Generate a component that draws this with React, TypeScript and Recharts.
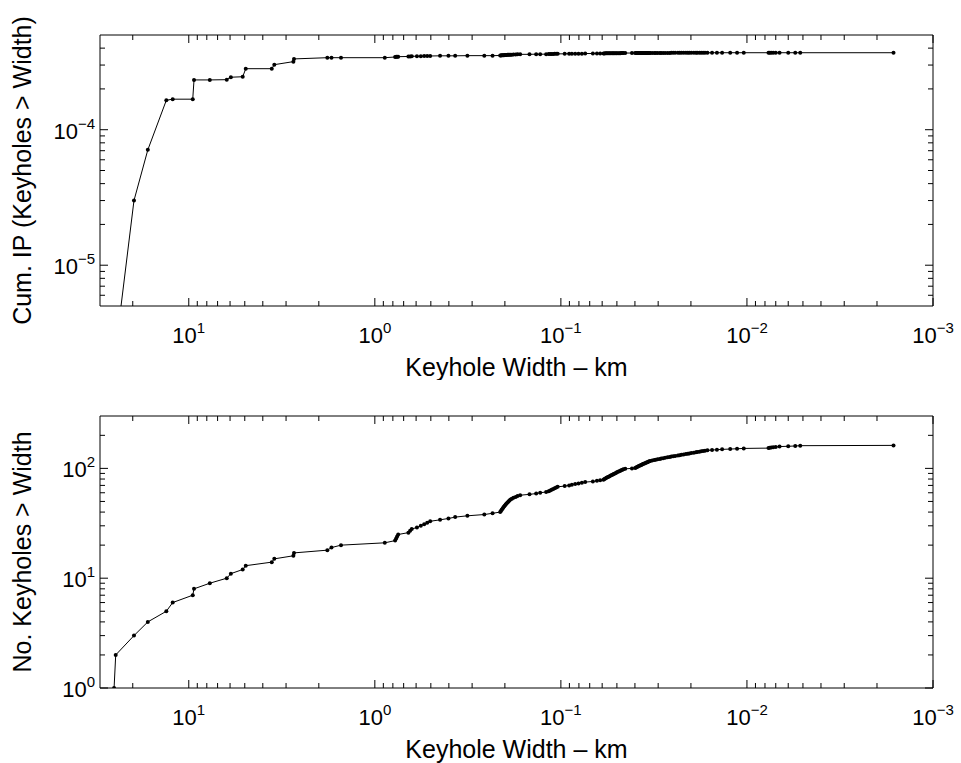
import { LineChart, Line, XAxis, YAxis, Label } from "recharts";

// keyhole widths (km), sorted largest first, shared by both panels
const widthsKm = [
  25.2, 24.7, 19.7, 16.6, 13.2, 12.2, 9.52, 9.37, 7.71, 6.25,
  5.94, 5.13, 4.94, 3.58, 3.47, 2.74, 2.72, 1.8, 1.71, 1.52,
  0.884, 0.778, 0.768, 0.759, 0.749, 0.66, 0.646, 0.633, 0.594, 0.566,
  0.543, 0.523, 0.504, 0.446, 0.402, 0.37, 0.318, 0.258, 0.233, 0.212,
  0.21, 0.208, 0.206, 0.204, 0.202, 0.2, 0.198, 0.196, 0.1935, 0.1913,
  0.189, 0.1864, 0.1834, 0.1798, 0.175, 0.171, 0.1655, 0.1475, 0.1358, 0.1292,
  0.12, 0.1163, 0.1142, 0.1121, 0.11, 0.108, 0.106, 0.104, 0.0954, 0.0903,
  0.0873, 0.0838, 0.0804, 0.0771, 0.074, 0.0673, 0.064, 0.0615, 0.059, 0.0584,
  0.0576, 0.0569, 0.0562, 0.0554, 0.0547, 0.054, 0.0532, 0.0526, 0.052, 0.0513,
  0.0506, 0.05, 0.0493, 0.0486, 0.0479, 0.0474, 0.0467, 0.0461, 0.0451, 0.0415,
  0.0399, 0.0394, 0.039, 0.0385, 0.0381, 0.0376, 0.0372, 0.0368, 0.0364, 0.036,
  0.0355, 0.0351, 0.0347, 0.0343, 0.0339, 0.0335, 0.0331, 0.0323, 0.0315, 0.0309,
  0.0302, 0.0294, 0.0289, 0.0282, 0.0275, 0.0267, 0.026, 0.0255, 0.0249, 0.0243,
  0.0235, 0.023, 0.0225, 0.0219, 0.0213, 0.0208, 0.0204, 0.0199, 0.0193, 0.0188,
  0.0185, 0.018, 0.0176, 0.0172, 0.0168, 0.0163, 0.0154, 0.0145, 0.0136, 0.0123,
  0.0113, 0.0104, 0.00766, 0.00754, 0.0074, 0.00722, 0.007, 0.00668, 0.006, 0.0055,
  0.00517, 0.00163,
];

// No. keyholes wider than each width
const keyholeCounts = [
  1, 2, 3, 4, 5, 6, 7, 8, 9, 10, 11, 12, 13, 14, 15, 16, 17, 18, 19, 20,
  21, 22, 23, 24, 25, 26, 27, 28, 29, 30, 31, 32, 33, 34, 35, 36, 37, 38, 39, 40,
  41, 42, 43, 44, 45, 46, 47, 48, 49, 50, 51, 52, 53, 54, 55, 56, 57, 58, 59, 60,
  61, 62, 63, 64, 65, 66, 67, 68, 69, 70, 71, 72, 73, 74, 75, 76, 77, 78, 79, 80,
  81, 82, 83, 84, 85, 86, 87, 88, 89, 90, 91, 92, 93, 94, 95, 96, 97, 98, 99, 100,
  101, 102, 103, 104, 105, 106, 107, 108, 109, 110, 111, 112, 113, 114, 115, 116, 117, 118, 119, 120,
  121, 122, 123, 124, 125, 126, 127, 128, 129, 130, 131, 132, 133, 134, 135, 136, 137, 138, 139, 140,
  141, 142, 143, 144, 145, 146, 147, 148, 149, 150, 151, 152, 153, 154, 155, 156, 157, 158, 159, 160,
  161, 162,
];

// cumulative impact probability of keyholes wider than each width
const cumulativeIP = [
  1.5e-6, 2.4e-6, 3.0e-5, 7.1e-5, 1.65e-4, 1.68e-4, 1.68e-4, 2.33e-4, 2.33e-4, 2.34e-4,
  2.44e-4, 2.46e-4, 2.82e-4, 2.82e-4, 3.02e-4, 3.18e-4, 3.33e-4, 3.4e-4, 3.4e-4, 3.4e-4,
  3.4e-4, 3.44e-4, 3.45e-4, 3.46e-4, 3.46e-4, 3.47e-4, 3.47e-4, 3.48e-4, 3.49e-4, 3.49e-4,
  3.5e-4, 3.5e-4, 3.5e-4, 3.51e-4, 3.51e-4, 3.51e-4, 3.52e-4, 3.52e-4, 3.52e-4, 3.53e-4,
  3.53e-4, 3.54e-4, 3.54e-4, 3.55e-4, 3.55e-4, 3.56e-4, 3.56e-4, 3.56e-4, 3.57e-4, 3.57e-4,
  3.57e-4, 3.58e-4, 3.58e-4, 3.59e-4, 3.59e-4, 3.6e-4, 3.6e-4, 3.6e-4, 3.61e-4, 3.61e-4,
  3.61e-4, 3.62e-4, 3.62e-4, 3.62e-4, 3.62e-4, 3.63e-4, 3.63e-4, 3.63e-4, 3.63e-4, 3.64e-4,
  3.64e-4, 3.64e-4, 3.64e-4, 3.64e-4, 3.65e-4, 3.65e-4, 3.65e-4, 3.65e-4, 3.65e-4, 3.65e-4,
  3.66e-4, 3.66e-4, 3.66e-4, 3.66e-4, 3.66e-4, 3.66e-4, 3.66e-4, 3.67e-4, 3.67e-4, 3.67e-4,
  3.67e-4, 3.67e-4, 3.67e-4, 3.67e-4, 3.67e-4, 3.68e-4, 3.68e-4, 3.68e-4, 3.68e-4, 3.68e-4,
  3.68e-4, 3.68e-4, 3.68e-4, 3.68e-4, 3.68e-4, 3.69e-4, 3.69e-4, 3.69e-4, 3.69e-4, 3.69e-4,
  3.69e-4, 3.69e-4, 3.69e-4, 3.69e-4, 3.69e-4, 3.69e-4, 3.69e-4, 3.69e-4, 3.69e-4, 3.69e-4,
  3.69e-4, 3.69e-4, 3.69e-4, 3.69e-4, 3.69e-4, 3.69e-4, 3.69e-4, 3.7e-4, 3.7e-4, 3.7e-4,
  3.7e-4, 3.7e-4, 3.7e-4, 3.7e-4, 3.7e-4, 3.7e-4, 3.7e-4, 3.7e-4, 3.7e-4, 3.7e-4,
  3.7e-4, 3.7e-4, 3.7e-4, 3.7e-4, 3.7e-4, 3.7e-4, 3.7e-4, 3.7e-4, 3.7e-4, 3.7e-4,
  3.7e-4, 3.7e-4, 3.7e-4, 3.7e-4, 3.7e-4, 3.7e-4, 3.7e-4, 3.7e-4, 3.7e-4, 3.7e-4,
  3.7e-4, 3.7e-4,
];

const xTicks = [
  20, 10, 9, 8, 7, 6, 5, 4, 3, 2,
  1, 0.9, 0.8, 0.7, 0.6, 0.5, 0.4, 0.3, 0.2,
  0.1, 0.09, 0.08, 0.07, 0.06, 0.05, 0.04, 0.03, 0.02,
  0.01, 0.009, 0.008, 0.007, 0.006, 0.005, 0.004, 0.003, 0.002, 0.001,
];
const ipTicks = [
  6e-6, 7e-6, 8e-6, 9e-6, 1e-5, 2e-5, 3e-5, 4e-5, 5e-5, 6e-5, 7e-5, 8e-5, 9e-5,
  1e-4, 2e-4, 3e-4, 4e-4,
];
const countTicks = [1, 2, 3, 4, 5, 6, 7, 8, 9, 10, 20, 30, 40, 50, 60, 70, 80, 90, 100, 200];

const FONT = '"Liberation Sans", Arial, Helvetica, sans-serif';

const rows = widthsKm.map((w, i) => ({ w, count: keyholeCounts[i], ip: cumulativeIP[i] }));

function isDecade(v: number) {
  const l = Math.log10(v);
  return Math.abs(l - Math.round(l)) < 1e-6;
}

function PowerLabel({ x, y, value, anchor }: { x: number; y: number; value: number; anchor: string }) {
  const exp = Math.round(Math.log10(value));
  const expText = exp < 0 ? "\u2212" + Math.abs(exp) : String(exp);
  return (
    <text x={x} y={y} textAnchor={anchor} fontFamily={FONT} fontSize={22} fill="#000">
      10
      <tspan dy={-10} fontSize={15}>{expText}</tspan>
    </text>
  );
}

function xTick(side: "top" | "bottom") {
  // eslint-disable-next-line @typescript-eslint/no-explicit-any
  return (props: any) => {
    const { x, y, payload } = props;
    const major = isDecade(payload.value);
    const len = major ? 8 : 5;
    const dir = side === "bottom" ? -1 : 1;
    return (
      <g>
        <line x1={x} x2={x} y1={y} y2={y + dir * len} stroke="#000" strokeWidth={1} />
        {side === "bottom" && major ? <PowerLabel x={x} y={y + 37} value={payload.value} anchor="middle" /> : null}
      </g>
    );
  };
}

function yTick(side: "left" | "right") {
  // eslint-disable-next-line @typescript-eslint/no-explicit-any
  return (props: any) => {
    const { x, y, payload } = props;
    const major = isDecade(payload.value);
    const len = major ? 8 : 5;
    const dir = side === "left" ? 1 : -1;
    return (
      <g>
        <line x1={x} x2={x + dir * len} y1={y} y2={y} stroke="#000" strokeWidth={1} />
        {side === "left" && major ? <PowerLabel x={x - 5} y={y + 9} value={payload.value} anchor="end" /> : null}
      </g>
    );
  };
}

// eslint-disable-next-line @typescript-eslint/no-explicit-any
const xTitle = (p: any) => (
  <text x={p.viewBox.x + p.viewBox.width / 2} y={p.viewBox.y + 70} textAnchor="middle" fontFamily={FONT} fontSize={25} fill="#000">
    Keyhole Width – km
  </text>
);

function yTitle(text: string) {
  // eslint-disable-next-line @typescript-eslint/no-explicit-any
  return (p: any) => {
    const cx = p.viewBox.x - 77;
    const cy = p.viewBox.y + p.viewBox.height / 2;
    return (
      <text x={cx} y={cy} transform={`rotate(-90, ${cx}, ${cy})`} textAnchor="middle" dominantBaseline="central" fontFamily={FONT} fontSize={25} fill="#000">
        {text}
      </text>
    );
  };
}

function Panel({ height, margin, dataKey, yDomain, yTicks, yLabel }: {
  height: number;
  margin: { top: number; right: number; bottom: number; left: number };
  dataKey: string;
  yDomain: [number, number];
  yTicks: number[];
  yLabel: string;
}) {
  const axisLine = { stroke: "#000", strokeWidth: 1 };
  return (
    <LineChart width={961} height={height} data={rows} margin={margin}>
      <XAxis xAxisId="b" dataKey="w" type="number" scale="log" domain={[0.001, 30]} reversed allowDataOverflow
        ticks={xTicks} interval={0} tick={xTick("bottom")} tickLine={false} tickSize={0} tickMargin={0} height={1} axisLine={axisLine}>
        <Label content={xTitle} />
      </XAxis>
      <XAxis xAxisId="t" orientation="top" dataKey="w" type="number" scale="log" domain={[0.001, 30]} reversed allowDataOverflow
        ticks={xTicks} interval={0} tick={xTick("top")} tickLine={false} tickSize={0} tickMargin={0} height={1} axisLine={axisLine} />
      <YAxis yAxisId="l" type="number" scale="log" domain={yDomain} allowDataOverflow
        ticks={yTicks} interval={0} tick={yTick("left")} tickLine={false} tickSize={0} tickMargin={0} width={1} axisLine={axisLine}>
        <Label content={yTitle(yLabel)} />
      </YAxis>
      <YAxis yAxisId="r" orientation="right" type="number" scale="log" domain={yDomain} allowDataOverflow
        ticks={yTicks} interval={0} tick={yTick("right")} tickLine={false} tickSize={0} tickMargin={0} width={1} axisLine={axisLine} />
      <Line xAxisId="b" yAxisId="l" dataKey={dataKey} stroke="#000" strokeWidth={1}
        dot={{ r: 2, fill: "#000", stroke: "#000", strokeWidth: 0 }} isAnimationActive={false} />
    </LineChart>
  );
}

export default function App() {
  return (
    <div style={{ position: "absolute", left: 0, top: 0, width: 961, height: 763, background: "#fff" }}>
      <Panel height={380} margin={{ top: 34, right: 27, bottom: 73, left: 99 }} dataKey="ip"
        yDomain={[5e-6, 5e-4]} yTicks={ipTicks} yLabel="Cum. IP (Keyholes > Width)" />
      <Panel height={383} margin={{ top: 35, right: 27, bottom: 74, left: 99 }} dataKey="count"
        yDomain={[1, 300]} yTicks={countTicks} yLabel="No. Keyholes > Width" />
    </div>
  );
}
